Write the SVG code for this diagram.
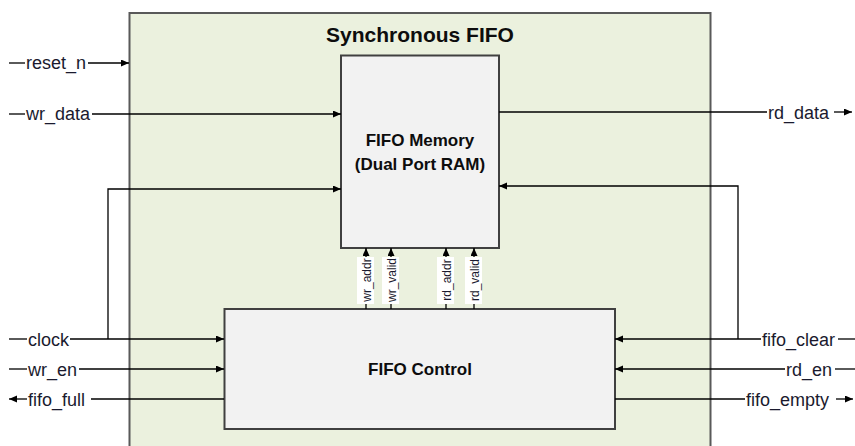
<svg xmlns="http://www.w3.org/2000/svg" width="855" height="446" viewBox="0 0 855 446">
  <style>
    .container { fill: #ebf1de; stroke: #595959; stroke-width: 2; }
    .block { fill: #f2f2f2; stroke: #404040; stroke-width: 2; }
    .title { font-family: "Liberation Sans", Arial, sans-serif; font-weight: bold; font-size: 21px; fill: #0d0d0d; text-anchor: middle; }
    .blabel { font-family: "Liberation Sans", Arial, sans-serif; font-weight: bold; font-size: 17px; fill: #0d0d0d; text-anchor: middle; }
    .port { font-family: "Liberation Sans", Arial, sans-serif; font-size: 18px; fill: #1a1a2e; }
    .bus { font-family: "Liberation Sans", Arial, sans-serif; font-size: 12px; fill: #1a1a2e; text-anchor: middle; }
    .wire { fill: none; stroke: #000; stroke-width: 1.3; }
    .arrow { marker-end: url(#head); }
    .tag { fill: #ffffff; stroke: none; }
  </style>
  <defs>
    <marker id="head" markerUnits="userSpaceOnUse" markerWidth="9" markerHeight="8" refX="8" refY="3.5" orient="auto">
      <path d="M0,0 L8,3.5 L0,7 z" fill="#000"/>
    </marker>
  </defs>

  <rect width="855" height="446" fill="#ffffff"/>

  <!-- top-level module boundary -->
  <g id="sync-fifo">
    <rect class="container" x="129.5" y="13" width="581" height="445"/>
    <text class="title" x="420" y="42">Synchronous FIFO</text>
  </g>

  <!-- storage array -->
  <g id="fifo-memory">
    <rect class="block" x="341" y="55.5" width="158" height="192.5"/>
    <text class="blabel" x="420" y="146">FIFO Memory</text>
    <text class="blabel" x="420" y="170">(Dual Port RAM)</text>
  </g>

  <!-- pointer / flag logic -->
  <g id="fifo-control">
    <rect class="block" x="224.5" y="309" width="390.5" height="120"/>
    <text class="blabel" x="420" y="375">FIFO Control</text>
  </g>

  <g id="connectors">
    <!-- left-hand ports -->
    <line class="wire" x1="9" y1="63" x2="25" y2="63"/>
    <text class="port" x="26" y="69">reset_n</text>
    <line class="wire arrow" x1="88" y1="63" x2="129" y2="63"/>

    <line class="wire" x1="9" y1="114" x2="25" y2="114"/>
    <text class="port" x="26" y="120">wr_data</text>
    <line class="wire arrow" x1="92" y1="114" x2="341" y2="114"/>

    <line class="wire" x1="9" y1="339" x2="27" y2="339"/>
    <text class="port" x="28" y="345.5">clock</text>
    <line class="wire arrow" x1="70" y1="339" x2="224" y2="339"/>
    <polyline class="wire arrow" points="108,339 108,189 341,189"/>

    <line class="wire" x1="9" y1="369" x2="27" y2="369"/>
    <text class="port" x="28" y="375.5">wr_en</text>
    <line class="wire arrow" x1="79" y1="369" x2="224" y2="369"/>

    <line class="wire arrow" x1="27" y1="399" x2="9" y2="399"/>
    <text class="port" x="28" y="405.5">fifo_full</text>
    <line class="wire" x1="91" y1="399" x2="224" y2="399"/>

    <!-- right-hand ports -->
    <line class="wire" x1="499" y1="112" x2="767" y2="112"/>
    <text class="port" x="768" y="118.5">rd_data</text>
    <line class="wire arrow" x1="834" y1="112" x2="852" y2="112"/>

    <line class="wire" x1="855" y1="339" x2="838" y2="339"/>
    <text class="port" x="762" y="345.5">fifo_clear</text>
    <line class="wire arrow" x1="761" y1="339" x2="615" y2="339"/>
    <polyline class="wire arrow" points="738,339 738,186 499,186"/>

    <line class="wire" x1="855" y1="369" x2="835" y2="369"/>
    <text class="port" x="786" y="375.5">rd_en</text>
    <line class="wire arrow" x1="785" y1="369" x2="615" y2="369"/>

    <line class="wire" x1="615" y1="399" x2="745" y2="399"/>
    <text class="port" x="746" y="405.5">fifo_empty</text>
    <line class="wire arrow" x1="836" y1="399" x2="853" y2="399"/>

    <!-- internal buses from control to memory -->
    <line class="wire arrow" x1="366" y1="309" x2="366" y2="248"/>
    <line class="wire arrow" x1="391" y1="309" x2="391" y2="248"/>
    <line class="wire arrow" x1="446" y1="309" x2="446" y2="248"/>
    <line class="wire arrow" x1="474" y1="309" x2="474" y2="248"/>

    <rect class="tag" x="357" y="257" width="17" height="47"/>
    <rect class="tag" x="382" y="257" width="17" height="47"/>
    <rect class="tag" x="437" y="257" width="17" height="47"/>
    <rect class="tag" x="465" y="257" width="17" height="47"/>

    <text class="bus" transform="translate(366,280) rotate(-90)" y="4.5">wr_addr</text>
    <text class="bus" transform="translate(391,280) rotate(-90)" y="4.5">wr_valid</text>
    <text class="bus" transform="translate(446,280) rotate(-90)" y="4.5">rd_addr</text>
    <text class="bus" transform="translate(474,280) rotate(-90)" y="4.5">rd_valid</text>
  </g>
</svg>
